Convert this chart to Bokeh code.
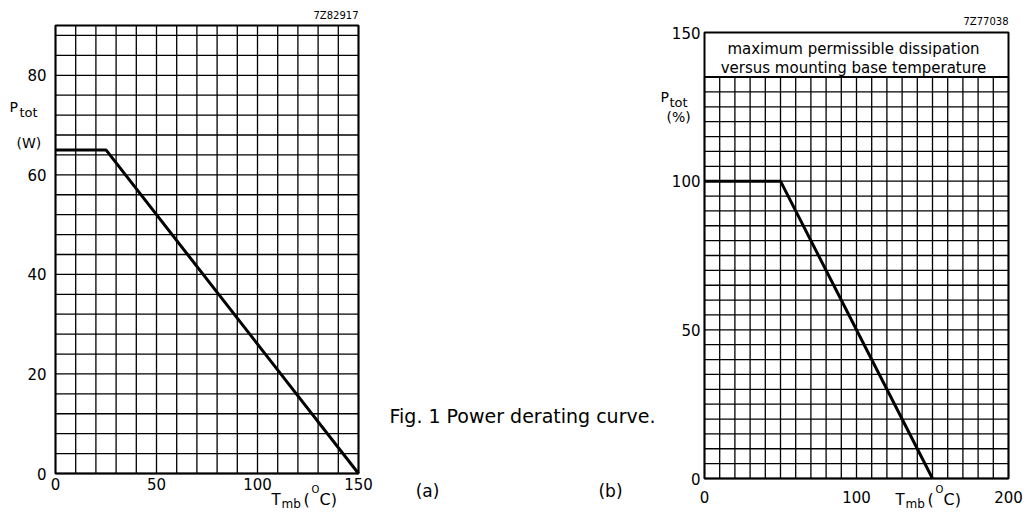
from bokeh.plotting import figure
from bokeh.layouts import row
from bokeh.models import Range1d, FixedTicker
from bokeh.embed import file_html
from bokeh.resources import INLINE
from bokeh.core.properties import value

# ---------------- data ----------------
# (a) absolute power derating curve
a_temp = [0, 25, 150]
a_ptot = [65, 65, 0]
# (b) relative power derating curve
b_temp = [0, 50, 150]
b_ptot = [100, 100, 0]

a_xlim = (0, 150)
a_ylim = (0, 90)
a_xticks = [0, 50, 100, 150]
a_yticks = [0, 20, 40, 60, 80]
a_xgrid = list(range(0, 151, 10))
a_ygrid = list(range(0, 89, 4))

b_xlim = (0, 200)
b_ylim = (0, 150)
b_grid_top = 135
b_xticks = [0, 100, 200]
b_yticks = [0, 50, 100, 150]
b_xgrid = list(range(0, 201, 10))
b_ygrid = list(range(0, 136, 5))

a_code = "7Z82917"
b_code = "7Z77038"
b_box_lines = ["maximum permissible dissipation", "versus mounting base temperature"]
caption = "Fig. 1  Power derating curve."
panel_tags = ["(a)", "(b)"]

FONT = "DejaVu Sans"
H = 512


# ---------------- layout helpers (pixel geometry of the page) ----------------
class Geo:
    def __init__(self, page_left, page_right, x0_px, x1_px, xlim, y0_px, y1_px, ylim):
        self.sx = (x1_px - x0_px) / (xlim[1] - xlim[0])
        self.sy = (y0_px - y1_px) / (ylim[1] - ylim[0])
        self.x0_px, self.y0_px = x0_px, y0_px
        self.page_left, self.page_right = page_left, page_right

    def x(self, px):
        return (px - self.x0_px) / self.sx

    def y(self, py):
        return (self.y0_px - py) / self.sy

    def xr(self):
        return Range1d(self.x(self.page_left), self.x(self.page_right))

    def yr(self):
        return Range1d(self.y(H), self.y(0))


def make_fig(geo, xticks, yticks, xstand, ystand):
    p = figure(width=int(geo.page_right - geo.page_left), height=H,
               x_range=geo.xr(), y_range=geo.yr(),
               output_backend="svg", toolbar_location=None, title=None,
               min_border=0, min_border_left=0, min_border_right=0,
               min_border_top=0, min_border_bottom=0)
    p.background_fill_color = "white"
    p.border_fill_color = "white"
    p.outline_line_color = None
    p.grid.visible = False
    for ax, ticks, st in ((p.xaxis[0], xticks, xstand), (p.yaxis[0], yticks, ystand)):
        ax.fixed_location = 0
        ax.ticker = FixedTicker(ticks=ticks)
        ax.axis_line_color = None
        ax.major_tick_line_color = None
        ax.minor_tick_line_color = None
        ax.major_tick_out = 0
        ax.major_tick_in = 0
        ax.major_label_text_font = FONT
        ax.major_label_text_font_size = "15px"
        ax.major_label_text_color = "black"
        ax.major_label_standoff = st
    return p


def txt(p, x, y, text, size, align="left", baseline="middle"):
    p.text(x=[x], y=[y], text=[text], text_font=value(FONT), text_font_size=size,
           text_align=align, text_baseline=baseline, text_color="black")


def grid(p, xs, ys, xlim, ytop):
    p.segment(x0=xs, y0=[0] * len(xs), x1=xs, y1=[ytop] * len(xs),
              line_color="black", line_width=1.3)
    p.segment(x0=[xlim[0]] * len(ys), y0=ys, x1=[xlim[1]] * len(ys), y1=ys,
              line_color="black", line_width=1.3)


def temp_label(p, g, left):
    # T_mb (°C) written with a subscript and a superscript "O"
    txt(p, g.x(left), g.y(499), "T", "15px")
    txt(p, g.x(left + 10), g.y(510), "mb", "12px", baseline="bottom")
    txt(p, g.x(left + 32), g.y(499), "(", "16px")
    txt(p, g.x(left + 40), g.y(489), "O", "10px")
    txt(p, g.x(left + 48), g.y(499), "C)", "16px")


# ---------------- figure (a) ----------------
ga = Geo(0, 388, 55, 358, a_xlim, 473, 25, a_ylim)
pa = make_fig(ga, a_xticks, a_yticks, 4, 9)
grid(pa, a_xgrid, a_ygrid, a_xlim, a_ylim[1])
pa.quad(left=[a_xlim[0]], right=[a_xlim[1]], bottom=[a_ylim[0]], top=[a_ylim[1]],
        fill_color=None, line_color="black", line_width=2)
pa.line(a_temp, a_ptot, line_color="black", line_width=3)

txt(pa, ga.x(358), ga.y(15), a_code, "10px", align="right")
txt(pa, ga.x(9), ga.y(106), "P", "14px")
txt(pa, ga.x(19), ga.y(112), "tot", "13px")
txt(pa, ga.x(16), ga.y(142), "(W)", "14px")
temp_label(pa, ga, 271)

# ---------------- middle (caption) ----------------
MID_L, MID_R = 388, 660
pm = figure(width=MID_R - MID_L, height=H, x_range=Range1d(MID_L, MID_R), y_range=Range1d(H, 0),
            output_backend="svg", toolbar_location=None, title=None,
            x_axis_type=None, y_axis_type=None,
            min_border=0, min_border_left=0, min_border_right=0,
            min_border_top=0, min_border_bottom=0)
pm.outline_line_color = None
pm.background_fill_color = "white"
pm.border_fill_color = "white"
pm.text(x=[389], y=[415], text=[caption], text_font=value(FONT), text_font_size="19px",
        text_align="left", text_baseline="middle", text_color="black")
pm.text(x=[427, 610], y=[490, 490], text=panel_tags, text_font=value(FONT),
        text_font_size="17px", text_align="center", text_baseline="middle", text_color="black")

# ---------------- figure (b) ----------------
gb = Geo(660, 1024, 704, 1008, b_xlim, 478, 32, b_ylim)
pb = make_fig(gb, b_xticks, b_yticks, 12, 4)
grid(pb, b_xgrid, b_ygrid, b_xlim, b_grid_top)
pb.segment(x0=[b_xlim[0]], y0=[b_grid_top], x1=[b_xlim[1]], y1=[b_grid_top],
           line_color="black", line_width=2)
pb.quad(left=[b_xlim[0]], right=[b_xlim[1]], bottom=[b_ylim[0]], top=[b_ylim[1]],
        fill_color=None, line_color="black", line_width=2)
pb.line(b_temp, b_ptot, line_color="black", line_width=3)

txt(pb, gb.x(1008), gb.y(21), b_code, "10px", align="right")
txt(pb, gb.x(853), gb.y(48), b_box_lines[0], "15px", align="center")
txt(pb, gb.x(853), gb.y(67), b_box_lines[1], "15px", align="center")
txt(pb, gb.x(660), gb.y(96), "P", "14px")
txt(pb, gb.x(669), gb.y(102), "tot", "13px")
txt(pb, gb.x(666), gb.y(116), "(%)", "14px")
temp_label(pb, gb, 895)

layout = row(pa, pm, pb, spacing=0)
open("out.html", "w").write(file_html(layout, INLINE))
